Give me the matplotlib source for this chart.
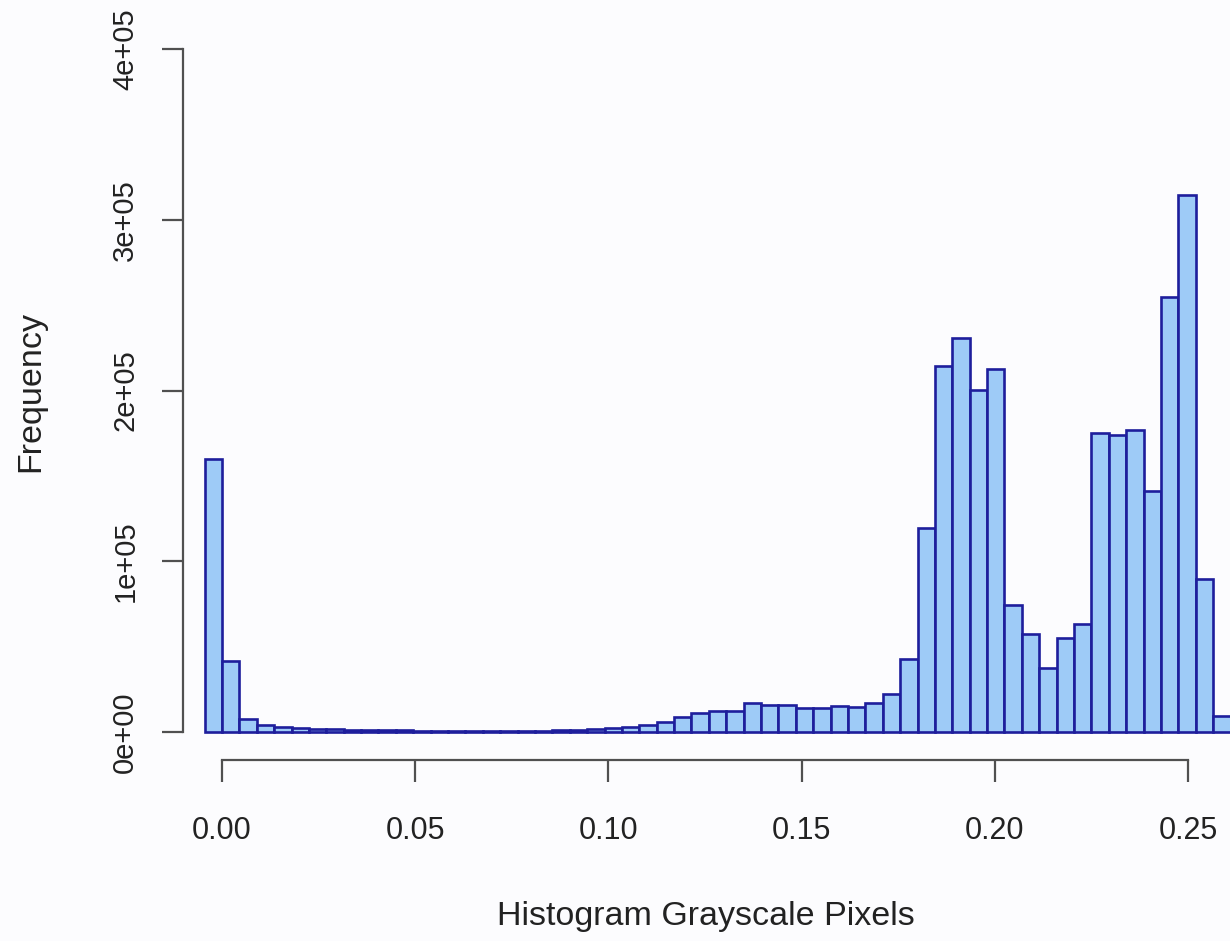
import matplotlib
matplotlib.use("Agg")
import matplotlib.pyplot as plt
import numpy as np

# ---- data ----
bin_start = -0.0045
bin_width = 0.0045
counts = [160000, 41800, 7700, 4000, 3000, 2200, 1800, 1500, 1300, 1200,
          1000, 900, 800, 700, 700, 600, 600, 600, 700, 800,
          1000, 1300, 1700, 2600, 3200, 4000, 6000, 8600, 11300, 12500,
          12100, 17200, 15600, 15600, 14200, 14200, 15400, 14800, 17200, 22500,
          43000, 119300, 214500, 230900, 200300, 212600, 74400, 57200, 37300, 54900,
          63300, 174900, 174100, 176900, 141300, 255000, 314500, 89400, 9400]
x_ticks = [0.00, 0.05, 0.10, 0.15, 0.20, 0.25]
x_tick_labels = ["0.00", "0.05", "0.10", "0.15", "0.20", "0.25"]
y_ticks = [0, 100000, 200000, 300000, 400000]
y_tick_labels = ["0e+00", "1e+05", "2e+05", "3e+05", "4e+05"]
x_label = "Histogram Grayscale Pixels"
y_label = "Frequency"

plt.rcParams['font.family'] = ['Liberation Sans', 'DejaVu Sans']

W, H = 1230, 941
fig = plt.figure(figsize=(W / 100, H / 100), dpi=100)
bg = '#fcfcfe'
fig.patch.set_facecolor(bg)

left_px, right_px, top_px, bottom_px = 183, 1230, 20, 760
ax = fig.add_axes([left_px / W, (H - bottom_px) / H,
                   (right_px - left_px) / W, (bottom_px - top_px) / H])
ax.set_facecolor(bg)

edges = bin_start + bin_width * np.arange(len(counts))
ax.bar(edges, counts, width=bin_width, align='edge',
       color='#9ecbf7', edgecolor='#1e1e9c', linewidth=1.9, zorder=2)

ax.set_xlim(-0.010093, 0.26087)
ax.set_ylim(-16398, 416984)

for s in ['top', 'right']:
    ax.spines[s].set_visible(False)
for s in ['left', 'bottom']:
    ax.spines[s].set_color('#505050')
    ax.spines[s].set_linewidth(1.6)
ax.spines['left'].set_bounds(0, 400000)
ax.spines['bottom'].set_bounds(0, 0.25)

ax.set_xticks(x_ticks)
ax.set_xticklabels(x_tick_labels)
ax.set_yticks(y_ticks)
ax.set_yticklabels(y_tick_labels, rotation=90, va='center')

ax.tick_params(axis='x', direction='out', length=16, width=1.6, color='#505050',
               pad=24, labelsize=22, labelcolor='#222222')
ax.tick_params(axis='y', direction='out', length=15, width=1.6, color='#505050',
               pad=16.5, labelsize=21, labelcolor='#222222')

fig.text(706 / W, 1 - 916 / H, x_label, ha='center', va='center',
         fontsize=24.5, color='#222222')
fig.text(31 / W, 1 - 391 / H, y_label, ha='center', va='center',
         rotation=90, fontsize=24.5, color='#222222')

fig.savefig('out.png', dpi=100, facecolor=bg)
